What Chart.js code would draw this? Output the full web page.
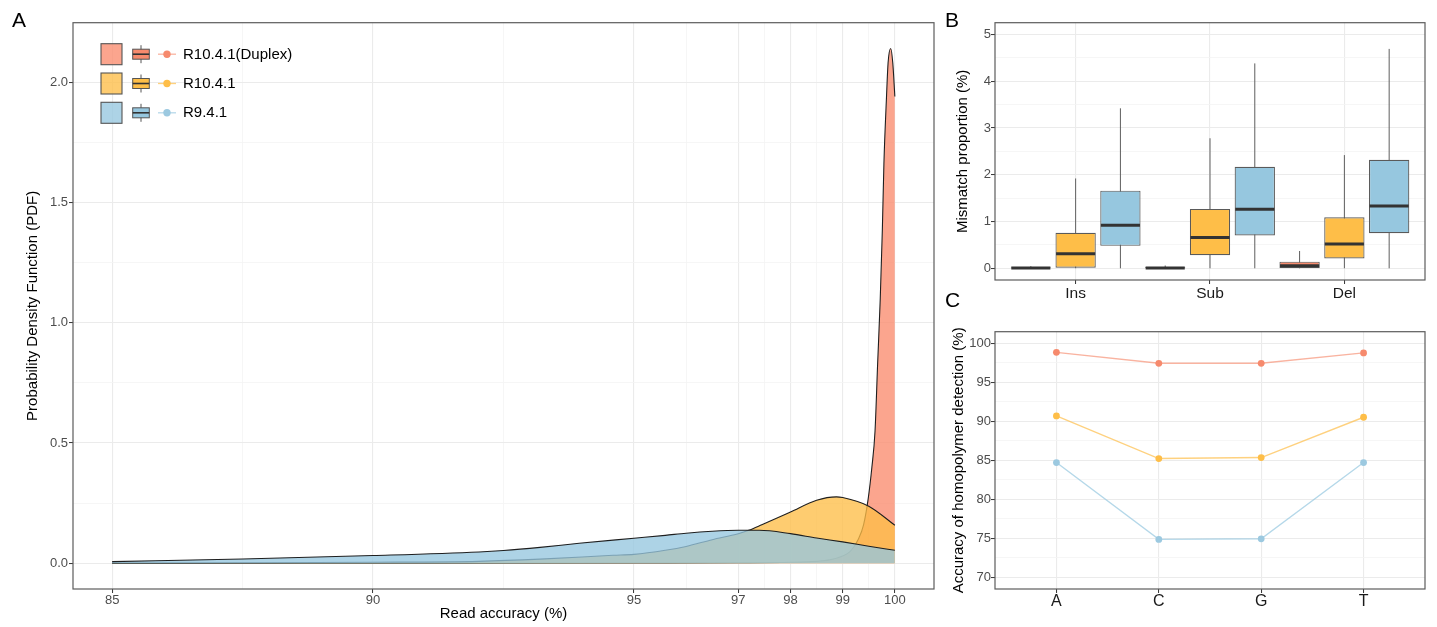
<!DOCTYPE html>
<html>
<head>
<meta charset="utf-8">
<script src="https://cdn.jsdelivr.net/npm/chart.js@4.4.1/dist/chart.umd.min.js"></script>
<style>
  html, body { margin: 0; padding: 0; background: #ffffff; }
  body { width: 1437px; height: 627px; position: relative; overflow: hidden;
         font-family: "Liberation Sans", Arial, Helvetica, sans-serif; }
  .panel { position: absolute; }
  .panel canvas { display: block; }
  .tag { position: absolute; font-size: 21px; line-height: 21px; color: #000; }
</style>
</head>
<body>
<div class="panel" style="left:0;top:0;width:940px;height:627px"><canvas id="chartA" width="940" height="627"></canvas></div>
<div class="panel" style="left:940px;top:0;width:497px;height:310px"><canvas id="chartB" width="497" height="310"></canvas></div>
<div class="panel" style="left:940px;top:310px;width:497px;height:317px"><canvas id="chartC" width="497" height="317"></canvas></div>
<div class="tag" style="left:12px;top:9px">A</div>
<div class="tag" style="left:945px;top:9px">B</div>
<div class="tag" style="left:945px;top:289px">C</div>

<script>
// ---------- series ----------
const seriesNames = ['R10.4.1(Duplex)', 'R10.4.1', 'R9.4.1'];
const boxColors   = ['#F68A6D', '#FEBE48', '#96C7DF'];
const densityFill = ['rgba(250,140,110,0.78)', 'rgba(254,190,72,0.78)', 'rgba(150,199,223,0.78)'];
const lineColors  = ['rgba(246,138,109,0.65)', 'rgba(254,190,72,0.7)', 'rgba(150,199,223,0.7)'];
const pointColors = ['#F68A6D', '#FEBE48', '#9CC9E0'];

// ---------- A: read accuracy densities ----------
const duplexAccX = [85, 90, 95, 97, 98, 98.5, 98.75, 99.0, 99.15, 99.3, 99.4, 99.49, 99.56, 99.62, 99.67, 99.72, 99.76, 99.79, 99.84, 99.87, 99.92, 99.96, 100];
const duplexPdf  = [0, 0, 0.001, 0.002, 0.004, 0.008, 0.014, 0.03, 0.05, 0.10, 0.16, 0.27, 0.40, 0.55, 0.83, 1.10, 1.385, 1.66, 1.94, 2.08, 2.14, 2.08, 1.94];
const r104AccX   = [85, 87.5, 90, 92.03, 93.2, 94.6, 95, 95.6, 96, 96.5, 97, 97.2, 97.45, 98, 98.5, 98.88, 99, 99.5, 100];
const r104Pdf    = [0.001, 0.002, 0.004, 0.008, 0.017, 0.033, 0.037, 0.054, 0.07, 0.098, 0.123, 0.137, 0.16, 0.213, 0.262, 0.276, 0.273, 0.237, 0.158];
const r941AccX   = [85, 87.5, 90, 92.03, 92.5, 93.2, 93.95, 95, 95.6, 96, 96.5, 97, 97.4, 98, 98.5, 99, 99.5, 100];
const r941Pdf    = [0.007, 0.018, 0.032, 0.047, 0.053, 0.066, 0.083, 0.104, 0.116, 0.125, 0.133, 0.137, 0.137, 0.123, 0.105, 0.089, 0.071, 0.054];

const accTicks   = [85, 87.5, 90, 92.5, 95, 96, 97, 97.5, 98, 98.5, 99, 99.5, 100];
const accLabels  = [85, 90, 95, 97, 98, 99, 100];
const pdfTicks   = [0, 0.25, 0.5, 0.75, 1, 1.25, 1.5, 1.75, 2];
const pdfLabels  = [0, 0.5, 1, 1.5, 2];

// ---------- B: mismatch proportion boxplots ----------
const mismatchTypes = ['Ins', 'Sub', 'Del'];
const duplexLow = [0, 0, 0];      const duplexQ1 = [0, 0, 0.005];   const duplexMed = [0.005, 0.005, 0.057];
const duplexQ3  = [0.025, 0.03, 0.142];                              const duplexHigh = [0.045, 0.06, 0.37];
const r104Low   = [0, 0, 0];      const r104Q1   = [0, 0.28, 0.21]; const r104Med   = [0.31, 0.66, 0.52];
const r104Q3    = [0.76, 1.27, 1.09];                                const r104High  = [1.92, 2.78, 2.42];
const r941Low   = [0, 0, 0];      const r941Q1   = [0.48, 0.70, 0.75]; const r941Med = [0.92, 1.26, 1.33];
const r941Q3    = [1.66, 2.17, 2.32];                                const r941High  = [3.42, 4.38, 4.69];
const mismatchTicks  = [0, 0.5, 1, 1.5, 2, 2.5, 3, 3.5, 4, 4.5, 5];
const mismatchLabels = [0, 1, 2, 3, 4, 5];

// ---------- C: homopolymer detection accuracy ----------
const bases = ['A', 'C', 'G', 'T'];
const duplexHomo = [98.85, 97.45, 97.45, 98.78];
const r104Homo   = [90.70, 85.23, 85.36, 90.53];
const r941Homo   = [84.72, 74.86, 74.94, 84.72];
const homoTicks  = [70, 72.5, 75, 77.5, 80, 82.5, 85, 87.5, 90, 92.5, 95, 97.5, 100];
const homoLabels = [70, 75, 80, 85, 90, 95, 100];

// ---------- shared styling ----------
Chart.defaults.font.family = '"Liberation Sans", Arial, Helvetica, sans-serif';
Chart.defaults.color = '#4D4D4D';
const FONT_TICK  = { size: 13, lineHeight: 1 };
const FONT_CAT   = { size: 15.5, lineHeight: 1 };
const FONT_TITLE = { size: 15, lineHeight: 1 };

const has = (list, v) => list.some(m => Math.abs(m - v) < 1e-9);

function gridFor(majors) {
  return {
    color: c => has(majors, c.tick.value) ? '#EBEBEB' : '#F4F4F4',
    lineWidth: c => has(majors, c.tick.value) ? 1.1 : 0.8,
    tickColor: c => has(majors, c.tick.value) ? '#333333' : 'rgba(0,0,0,0)',
    tickLength: 4,
    tickWidth: 1,
    offset: false
  };
}
const setTicks = list => scale => { scale.ticks = list.map(v => ({ value: v })); };

// panel frame drawn on top of the plotted marks
const panelFrame = {
  id: 'panelFrame',
  afterDraw(chart) {
    const { ctx, chartArea: a } = chart;
    ctx.save();
    ctx.strokeStyle = '#5C5C5C';
    ctx.lineWidth = 1.2;
    ctx.strokeRect(a.left, a.top, a.right - a.left, a.bottom - a.top);
    ctx.restore();
  }
};

// combined key for the three series (fill swatch, box glyph, line+point)
const seriesKey = {
  id: 'seriesKey',
  afterDraw(chart) {
    const { ctx, chartArea: a } = chart;
    ctx.save();
    seriesNames.forEach((name, k) => {
      const cy = a.top + 31.5 + 29.3 * k;
      // swatch
      ctx.fillStyle = densityFill[k];
      ctx.fillRect(a.left + 28, cy - 10.5, 21, 21);
      ctx.strokeStyle = '#555555'; ctx.lineWidth = 1.1;
      ctx.strokeRect(a.left + 28, cy - 10.5, 21, 21);
      // box glyph
      const bx = a.left + 68;
      ctx.strokeStyle = '#555555'; ctx.lineWidth = 1;
      ctx.beginPath(); ctx.moveTo(bx, cy - 9); ctx.lineTo(bx, cy + 9); ctx.stroke();
      ctx.fillStyle = boxColors[k];
      ctx.fillRect(bx - 8.3, cy - 5, 16.6, 10);
      ctx.strokeRect(bx - 8.3, cy - 5, 16.6, 10);
      ctx.strokeStyle = '#333333'; ctx.lineWidth = 1.6;
      ctx.beginPath(); ctx.moveTo(bx - 8.3, cy); ctx.lineTo(bx + 8.3, cy); ctx.stroke();
      // line + point
      ctx.strokeStyle = lineColors[k]; ctx.lineWidth = 1.3;
      ctx.beginPath(); ctx.moveTo(a.left + 85, cy); ctx.lineTo(a.left + 103, cy); ctx.stroke();
      ctx.fillStyle = pointColors[k];
      ctx.beginPath(); ctx.arc(a.left + 94, cy, 3.7, 0, Math.PI * 2); ctx.fill();
      // text
      ctx.fillStyle = '#000000';
      ctx.font = '15px "Liberation Sans", Arial, sans-serif';
      ctx.textBaseline = 'middle'; ctx.textAlign = 'left';
      ctx.fillText(name, a.left + 110, cy + 0.5);
    });
    ctx.restore();
  }
};

const zip = (xs, ys) => xs.map((x, i) => ({ x, y: ys[i] }));

// ---------- A ----------
const densitySets = [
  { x: duplexAccX, y: duplexPdf, order: 2 },
  { x: r104AccX,   y: r104Pdf,   order: 1 },
  { x: r941AccX,   y: r941Pdf,   order: 0 }
];
new Chart(document.getElementById('chartA'), {
  type: 'line',
  data: {
    datasets: densitySets.map((d, k) => ({
      label: seriesNames[k],
      data: zip(d.x, d.y),
      order: d.order,
      fill: 'origin',
      backgroundColor: densityFill[k],
      borderColor: '#1F1F1F',
      borderWidth: 1.1,
      pointRadius: 0,
      cubicInterpolationMode: 'monotone'
    }))
  },
  options: {
    responsive: false,
    animation: false,
    layout: { padding: { top: 22.7, right: 6, left: 0, bottom: 0 } },
    plugins: { legend: { display: false }, tooltip: { enabled: false } },
    scales: {
      x: {
        type: 'linear', min: 84.25, max: 100.75,
        afterBuildTicks: setTicks(accTicks),
        afterFit: s => { s.height = 38; },
        ticks: { callback: v => has(accLabels, v) ? String(v) : '', autoSkip: false, maxRotation: 0,
                 font: FONT_TICK, color: '#4D4D4D', padding: 1 },
        grid: gridFor(accLabels),
        border: { display: false },
        title: { display: true, text: 'Read accuracy (%)', color: '#000000', font: FONT_TITLE,
                 padding: { top: 0, bottom: 5.5 } }
      },
      y: {
        type: 'linear', min: -0.107, max: 2.247,
        afterBuildTicks: setTicks(pdfTicks),
        afterFit: s => { s.width = 73; },
        ticks: { callback: v => has(pdfLabels, v) ? v.toFixed(1) : '', autoSkip: false,
                 font: FONT_TICK, color: '#4D4D4D', padding: 1 },
        grid: gridFor(pdfLabels),
        border: { display: false },
        title: { display: true, text: 'Probability Density Function (PDF)', color: '#000000', font: FONT_TITLE,
                 padding: { top: 25, bottom: 0 } }
      }
    }
  },
  plugins: [panelFrame, seriesKey]
});

// ---------- B ----------
const boxStats = [
  { low: duplexLow, q1: duplexQ1, med: duplexMed, q3: duplexQ3, high: duplexHigh },
  { low: r104Low,   q1: r104Q1,   med: r104Med,   q3: r104Q3,   high: r104High },
  { low: r941Low,   q1: r941Q1,   med: r941Med,   q3: r941Q3,   high: r941High }
];

// whiskers behind the boxes, medians over them
const boxParts = {
  id: 'boxParts',
  beforeDatasetsDraw(chart) {
    const { ctx, scales: { y } } = chart;
    ctx.save();
    ctx.strokeStyle = '#5E5E5E'; ctx.lineWidth = 1;
    boxStats.forEach((s, k) => {
      chart.getDatasetMeta(k).data.forEach((bar, j) => {
        ctx.beginPath();
        ctx.moveTo(bar.x, y.getPixelForValue(s.low[j]));
        ctx.lineTo(bar.x, y.getPixelForValue(s.high[j]));
        ctx.stroke();
      });
    });
    ctx.restore();
  },
  afterDatasetsDraw(chart) {
    const { ctx, scales: { y } } = chart;
    ctx.save();
    ctx.strokeStyle = '#333333'; ctx.lineWidth = 3;
    boxStats.forEach((s, k) => {
      chart.getDatasetMeta(k).data.forEach((bar, j) => {
        const py = y.getPixelForValue(s.med[j]);
        ctx.beginPath();
        ctx.moveTo(bar.x - bar.width / 2 + 0.6, py);
        ctx.lineTo(bar.x + bar.width / 2 - 0.6, py);
        ctx.stroke();
      });
    });
    ctx.restore();
  }
};

new Chart(document.getElementById('chartB'), {
  type: 'bar',
  data: {
    datasets: boxStats.map((s, k) => ({
      label: seriesNames[k],
      data: mismatchTypes.map((_, j) => ({ x: j, y: [s.q1[j], s.q3[j]] })),
      backgroundColor: boxColors[k],
      borderColor: '#5A5A5A',
      borderWidth: 1.2,
      borderSkipped: false,
      categoryPercentage: 1,
      barPercentage: 0.9
    }))
  },
  options: {
    responsive: false,
    animation: false,
    layout: { padding: { top: 22.7, right: 12, left: 0, bottom: 0 } },
    plugins: { legend: { display: false }, tooltip: { enabled: false } },
    scales: {
      x: {
        type: 'linear', min: -0.6, max: 2.6, offset: false,
        afterBuildTicks: setTicks([0, 1, 2]),
        afterFit: s => { s.height = 30; },
        ticks: { callback: v => mismatchTypes[v] ?? '', autoSkip: false, maxRotation: 0,
                 font: FONT_CAT, color: '#1A1A1A', padding: 2 },
        grid: gridFor([0, 1, 2]),
        border: { display: false }
      },
      y: {
        type: 'linear', min: -0.25, max: 5.25, stacked: false,
        afterBuildTicks: setTicks(mismatchTicks),
        afterFit: s => { s.width = 55; },
        ticks: { callback: v => has(mismatchLabels, v) ? String(v) : '', autoSkip: false,
                 font: FONT_TICK, color: '#4D4D4D', padding: 0 },
        grid: gridFor(mismatchLabels),
        border: { display: false },
        title: { display: true, text: 'Mismatch proportion (%)', color: '#000000', font: FONT_TITLE,
                 padding: { top: 15, bottom: 0 } }
      }
    }
  },
  plugins: [boxParts, panelFrame]
});

// ---------- C ----------
const homoSets = [duplexHomo, r104Homo, r941Homo];
new Chart(document.getElementById('chartC'), {
  type: 'line',
  data: {
    datasets: homoSets.map((vals, k) => ({
      label: seriesNames[k],
      data: vals.map((v, j) => ({ x: j, y: v })),
      borderColor: lineColors[k],
      borderWidth: 1.4,
      pointRadius: 3.4,
      pointBackgroundColor: pointColors[k],
      pointBorderWidth: 0,
      tension: 0
    }))
  },
  options: {
    responsive: false,
    animation: false,
    layout: { padding: { top: 21.7, right: 12, left: 0, bottom: 0 } },
    plugins: { legend: { display: false }, tooltip: { enabled: false } },
    scales: {
      x: {
        type: 'linear', min: -0.6, max: 3.6,
        afterBuildTicks: setTicks([0, 1, 2, 3]),
        afterFit: s => { s.height = 38; },
        ticks: { callback: v => bases[v] ?? '', autoSkip: false, maxRotation: 0,
                 font: { size: 16, lineHeight: 1 }, color: '#1A1A1A', padding: 1 },
        grid: gridFor([0, 1, 2, 3]),
        border: { display: false }
      },
      y: {
        type: 'linear', min: 68.5, max: 101.5,
        afterBuildTicks: setTicks(homoTicks),
        afterFit: s => { s.width = 55; },
        ticks: { callback: v => has(homoLabels, v) ? String(v) : '', autoSkip: false,
                 font: FONT_TICK, color: '#4D4D4D', padding: 0 },
        grid: gridFor(homoLabels),
        border: { display: false },
        title: { display: true, text: 'Accuracy of homopolymer detection (%)', color: '#000000', font: FONT_TITLE,
                 padding: { top: 11.5, bottom: 0 } }
      }
    }
  },
  plugins: [panelFrame]
});
</script>
</body>
</html>
